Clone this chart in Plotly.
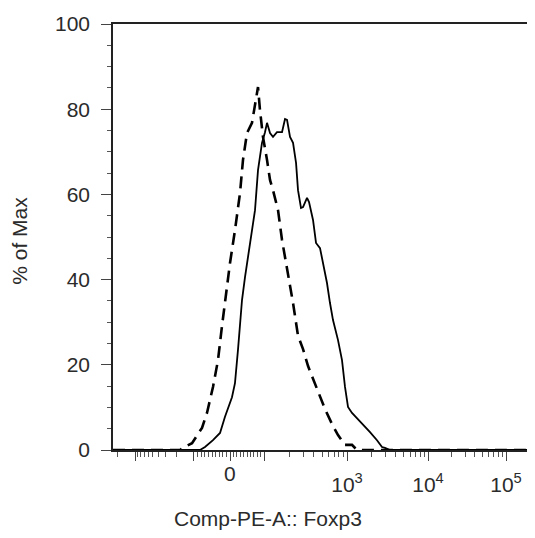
import math
import plotly.graph_objects as go

# ---- data (display channel scale 0-1024, % of Max) ----
solid_x = [0, 211.6, 223.8, 243.2, 260.3, 272.4, 289.4, 296.7, 304.0, 308.9, 313.8, 321.1,
           333.2, 345.4, 352.7, 362.4, 369.7, 374.6, 381.9, 389.2, 398.9, 411.1, 418.4,
           423.3, 430.6, 437.9, 445.2, 450.0, 457.3, 462.2, 471.9, 476.8, 486.5, 493.8,
           503.5, 510.8, 520.5, 527.8, 535.1, 547.3, 557.0, 564.3, 571.6, 581.3, 593.5,
           608.1, 625.1, 642.1, 654.3, 661.6, 673.7, 1024]
solid_y = [0, 0, 0.7, 2.3, 4.0, 7.8, 12.4, 15.7, 23.5, 30.5, 35.2, 40.6,
           48.6, 56.3, 65.7, 72.1, 74.6, 76.8, 74.4, 73.5, 74.6, 74.6, 77.7,
           77.5, 73.5, 72.1, 67.4, 61.0, 56.8, 57.0, 59.2, 58.2, 54.0, 48.6,
           47.4, 43.9, 39.2, 34.5, 30.5, 25.8, 21.1, 14.8, 10.1, 8.7, 7.5,
           5.9, 4.2, 2.3, 0.7, 0.5, 0, 0]

dash_x = [0, 163.0, 170.3, 192.2, 216.5, 228.6, 243.2, 255.4, 265.1, 272.4, 284.6, 296.7,
          308.9, 316.2, 325.9, 338.1, 345.4, 352.7, 357.5, 364.8, 374.6, 381.9, 389.2,
          401.4, 411.1, 418.4, 425.7, 437.9, 450.0, 462.2, 474.4, 486.5, 503.5, 515.7,
          532.7, 547.3, 564.3, 581.3, 593.5, 1024]
dash_y = [0, 0, 0.5, 1.6, 5.2, 8.7, 14.8, 21.1, 29.1, 35.2, 43.9, 51.6,
          60.3, 68.1, 74.4, 76.8, 81.5, 85.2, 79.8, 73.5, 68.1, 63.4, 61.0,
          56.3, 49.3, 45.3, 40.6, 34.5, 26.8, 23.7, 19.7, 16.7, 12.7, 9.6,
          6.1, 3.5, 1.2, 1.2, 0, 0]

# biexponential axis anchors: value -> display channel
anchor_vals = [-10000, -1000, -100, 0, 100, 1000, 10000, 100000, 1000000]
anchor_pos = [-90.0, 53.5, 197.0, 284.6, 367.3, 569.2, 766.2, 955.9, 1146.0]

major_vals = [-1000, -100, 0, 100, 1000, 10000, 100000]
major_text = ["", "", "", "", "10<sup>3</sup>", "10<sup>4</sup>", "10<sup>5</sup>"]
zero_label = "0"

y_title = "% of Max"
x_title = "Comp-PE-A:: Foxp3"


def disp(v):
    if abs(v) <= 100:
        if v >= 0:
            return anchor_pos[3] + v * (anchor_pos[4] - anchor_pos[3]) / 100
        return anchor_pos[3] + v * (anchor_pos[3] - anchor_pos[2]) / 100
    for i in range(len(anchor_vals) - 1):
        a, b = anchor_vals[i], anchor_vals[i + 1]
        if a <= v <= b and a * b > 0:
            la, lb = math.log10(abs(a)), math.log10(abs(b))
            t = (math.log10(abs(v)) - la) / (lb - la)
            return anchor_pos[i] + t * (anchor_pos[i + 1] - anchor_pos[i])
    return None


minor_real = []
for m in range(1, 10):
    minor_real += [m * 10, -m * 10]
for k in (2, 3, 4, 5):
    for m in range(2, 10):
        minor_real += [m * 10 ** k, -m * 10 ** k]
minor_pos = sorted(p for p in (disp(v) for v in minor_real) if p is not None and 0 <= p <= 1024)
major_pos = [disp(v) for v in major_vals]

FONT = "Liberation Sans, Arial, sans-serif"
TXT = "#2b2b2b"
FS = 21
PLOT_H = 426

fig = go.Figure()
fig.add_trace(go.Scatter(x=solid_x, y=solid_y, mode="lines",
                         line=dict(color="black", width=1.8), showlegend=False))
fig.add_trace(go.Scatter(x=dash_x, y=dash_y, mode="lines",
                         line=dict(color="black", width=2.6, dash="12px,7px"), showlegend=False))

fig.update_layout(
    width=527, height=522,
    margin=dict(l=105, r=1, t=16, b=80),
    plot_bgcolor="white", paper_bgcolor="white",
    font=dict(family=FONT, size=FS, color=TXT),
    xaxis=dict(range=[0, 1024], showgrid=False, zeroline=False,
               showline=True, linecolor="#222", linewidth=1.5, mirror=True,
               tickmode="array", tickvals=major_pos, ticktext=major_text,
               ticks="outside", ticklen=9, tickwidth=1, tickcolor="#444",
               ticklabelstandoff=6,
               tickfont=dict(size=FS, color=TXT),
               minor=dict(tickmode="array", tickvals=minor_pos, ticks="outside",
                          ticklen=5, tickwidth=1, tickcolor="#555", showgrid=False)),
    yaxis=dict(range=[0, 100], showgrid=False, zeroline=False,
               showline=True, linecolor="#222", linewidth=1.5,
               tickmode="linear", tick0=0, dtick=20,
               ticks="outside", ticklen=10, tickwidth=1, tickcolor="#444",
               ticklabelstandoff=7,
               tickfont=dict(size=FS, color=TXT),
               minor=dict(dtick=5, ticks="outside", ticklen=4, tickwidth=1,
                          tickcolor="#555", showgrid=False)),
    annotations=[
        dict(text=zero_label, xref="x", yref="paper", x=disp(0), y=-23 / PLOT_H,
             xanchor="center", yanchor="middle", showarrow=False,
             font=dict(size=FS, color=TXT)),
        dict(text=x_title, xref="paper", yref="paper", x=0.367, y=-68 / PLOT_H,
             xanchor="center", yanchor="middle", showarrow=False,
             font=dict(size=FS, color=TXT)),
        dict(text=y_title, xref="paper", yref="paper", x=-0.222, y=0.49,
             xanchor="center", yanchor="middle", showarrow=False, textangle=-90,
             font=dict(size=FS, color=TXT)),
    ],
)

fig.write_html("out.html")
